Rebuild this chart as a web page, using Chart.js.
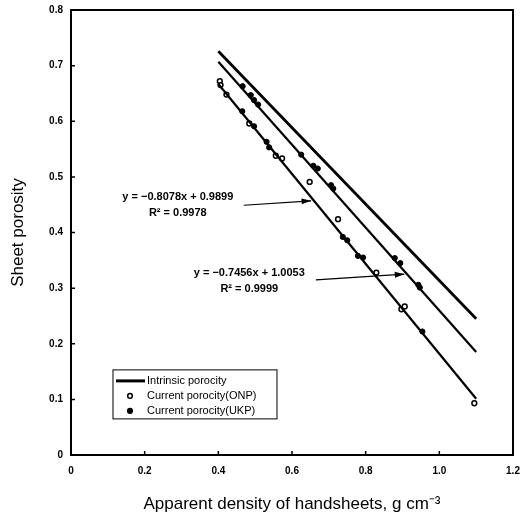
<!DOCTYPE html>
<html>
<head>
<meta charset="utf-8">
<script src="https://cdn.jsdelivr.net/npm/chart.js@4"></script>
<style>
  html, body { margin: 0; padding: 0; background: #fff; }
  #wrap { width: 522px; height: 522px; }
</style>
</head>
<body>
<div id="wrap"><canvas id="myChart"></canvas></div>
<script>
// ---- data ----
const intrinsicLine = [{x: 0.40, y: 0.726}, {x: 1.10, y: 0.245}];
const ukpFitLine    = [{x: 0.40, y: 0.707}, {x: 1.10, y: 0.185}];
const onpFitLine    = [{x: 0.40, y: 0.667}, {x: 1.10, y: 0.101}];

const onpDensity  = [0.404, 0.406, 0.422, 0.484, 0.556, 0.573, 0.648, 0.725, 0.829, 0.897, 0.906, 1.095];
const onpPorosity = [0.672, 0.665, 0.648, 0.596, 0.538, 0.533, 0.491, 0.424, 0.328, 0.262, 0.267, 0.093];

const ukpDensity  = [0.466, 0.488, 0.497, 0.508, 0.625, 0.658, 0.670, 0.706, 0.712,
                     0.465, 0.497, 0.531, 0.538, 0.738, 0.750, 0.779, 0.793,
                     0.879, 0.894, 0.943, 0.947, 0.954];
const ukpPorosity = [0.663, 0.647, 0.638, 0.630, 0.540, 0.520, 0.515, 0.485, 0.479,
                     0.618, 0.591, 0.563, 0.553, 0.392, 0.386, 0.358, 0.355,
                     0.354, 0.345, 0.306, 0.301, 0.222];

const xTicks = [0, 0.2, 0.4, 0.6, 0.8, 1, 1.2];
const yTicks = [0, 0.1, 0.2, 0.3, 0.4, 0.5, 0.6, 0.7, 0.8];

const legendLabels = ['Intrinsic porocity', 'Current porocity(ONP)', 'Current porocity(UKP)'];

const FONT = "'Liberation Sans', Arial, sans-serif";

// equation notes, each with an arrow pointing to its line
const notes = [
  {lines: ['y = \u22120.8078x + 0.9899', 'R\u00b2 = 0.9978'], at: {x: 0.29, y: 0.464},
   from: {x: 0.469, y: 0.449}, to: {x: 0.652, y: 0.457}},
  {lines: ['y = \u22120.7456x + 1.0053', 'R\u00b2 = 0.9999'], at: {x: 0.484, y: 0.327},
   from: {x: 0.665, y: 0.315}, to: {x: 0.905, y: 0.325}}
];

function toPoints(xs, ys) {
  return xs.map((x, i) => ({x: x, y: ys[i]}));
}

// frame + inward ticks
const framePlugin = {
  id: 'frame',
  afterDraw(chart) {
    const {ctx, chartArea: a, scales} = chart;
    ctx.save();
    ctx.strokeStyle = '#000';
    ctx.lineWidth = 2;
    ctx.strokeRect(a.left, a.top, a.right - a.left, a.bottom - a.top);
    ctx.lineWidth = 1.5;
    ctx.beginPath();
    xTicks.forEach(v => {
      const px = scales.x.getPixelForValue(v);
      ctx.moveTo(px, a.bottom);
      ctx.lineTo(px, a.bottom - 4);
    });
    yTicks.forEach(v => {
      const py = scales.y.getPixelForValue(v);
      ctx.moveTo(a.left, py);
      ctx.lineTo(a.left + 4, py);
    });
    ctx.stroke();
    ctx.restore();
  }
};

// equations and arrows
const notesPlugin = {
  id: 'notes',
  afterDatasetsDraw(chart) {
    const {ctx, scales: {x, y}} = chart;
    ctx.save();
    ctx.fillStyle = '#000';
    ctx.strokeStyle = '#000';
    ctx.font = 'bold 11px ' + FONT;
    ctx.textAlign = 'center';
    ctx.textBaseline = 'middle';
    notes.forEach(n => {
      const cx = x.getPixelForValue(n.at.x);
      const cy = y.getPixelForValue(n.at.y);
      n.lines.forEach((t, i) => ctx.fillText(t, cx, cy + i * 16));
      const x0 = x.getPixelForValue(n.from.x), y0 = y.getPixelForValue(n.from.y);
      const x1 = x.getPixelForValue(n.to.x),   y1 = y.getPixelForValue(n.to.y);
      ctx.lineWidth = 1.2;
      ctx.beginPath();
      ctx.moveTo(x0, y0);
      ctx.lineTo(x1, y1);
      ctx.stroke();
      const ang = Math.atan2(y1 - y0, x1 - x0);
      ctx.beginPath();
      ctx.moveTo(x1, y1);
      ctx.lineTo(x1 - 10 * Math.cos(ang - 0.3), y1 - 10 * Math.sin(ang - 0.3));
      ctx.lineTo(x1 - 10 * Math.cos(ang + 0.3), y1 - 10 * Math.sin(ang + 0.3));
      ctx.closePath();
      ctx.fill();
    });
    ctx.restore();
  }
};

// boxed legend in the lower left corner of the plot
const legendBoxPlugin = {
  id: 'legendBox',
  afterDraw(chart) {
    const {ctx, scales: {x, y}} = chart;
    const left = x.getPixelForValue(0.114), top = y.getPixelForValue(0.153);
    const w = 164, h = 49;
    ctx.save();
    ctx.fillStyle = '#fff';
    ctx.fillRect(left, top, w, h);
    ctx.strokeStyle = '#000';
    ctx.lineWidth = 1;
    ctx.strokeRect(left, top, w, h);
    ctx.font = '11px ' + FONT;
    ctx.textBaseline = 'middle';
    ctx.textAlign = 'left';
    ctx.fillStyle = '#000';
    legendLabels.forEach((t, i) => {
      const ry = top + 11 + i * 15;
      if (i === 0) {
        ctx.lineWidth = 3;
        ctx.beginPath();
        ctx.moveTo(left + 3, ry);
        ctx.lineTo(left + 32, ry);
        ctx.stroke();
      } else {
        ctx.lineWidth = 1.5;
        ctx.beginPath();
        ctx.arc(left + 17, ry, 2.3, 0, Math.PI * 2);
        if (i === 2) ctx.fill();
        ctx.stroke();
      }
      ctx.fillText(t, left + 34, ry);
    });
    ctx.restore();
  }
};

const lineStyle = (data, w) => ({
  type: 'line', data: data, borderColor: '#000', borderWidth: w,
  pointRadius: 0, fill: false, tension: 0
});

new Chart(document.getElementById('myChart'), {
  type: 'scatter',
  data: {
    datasets: [
      Object.assign({label: legendLabels[0]}, lineStyle(intrinsicLine, 2.8)),
      Object.assign({label: 'UKP fit'}, lineStyle(ukpFitLine, 2.2)),
      Object.assign({label: 'ONP fit'}, lineStyle(onpFitLine, 2.2)),
      {
        label: legendLabels[1],
        data: toPoints(onpDensity, onpPorosity),
        pointRadius: 2.4, pointBorderWidth: 1.5,
        pointBackgroundColor: '#fff', pointBorderColor: '#000'
      },
      {
        label: legendLabels[2],
        data: toPoints(ukpDensity, ukpPorosity),
        pointRadius: 2.6, pointBorderWidth: 1,
        pointBackgroundColor: '#000', pointBorderColor: '#000'
      }
    ]
  },
  options: {
    responsive: true,
    maintainAspectRatio: false,
    animation: false,
    layout: {padding: {top: 10, right: 9, left: 0, bottom: 0}},
    plugins: {legend: {display: false}, tooltip: {enabled: false}},
    scales: {
      x: {
        type: 'linear', min: 0, max: 1.2,
        afterBuildTicks: s => { s.ticks = xTicks.map(v => ({value: v})); },
        afterFit: s => { s.height = 67; s.paddingLeft = 0; s.paddingRight = 0; },
        grid: {display: false, drawTicks: false},
        border: {display: false},
        ticks: {color: '#000', padding: 10, font: {family: FONT, size: 10, weight: 'bold'}},
        title: {display: true, text: 'Apparent density of handsheets, g cm\u207b\u00b3',
                color: '#000', font: {family: FONT, size: 17}, padding: {bottom: 7}}
      },
      y: {
        type: 'linear', min: 0, max: 0.8,
        afterBuildTicks: s => { s.ticks = yTicks.map(v => ({value: v})); },
        afterFit: s => { s.width = 71; s.paddingTop = 0; s.paddingBottom = 0; },
        grid: {display: false, drawTicks: false},
        border: {display: false},
        ticks: {color: '#000', padding: 8, font: {family: FONT, size: 10, weight: 'bold'}},
        title: {display: true, text: 'Sheet porosity',
                color: '#000', font: {family: FONT, size: 17}, padding: {top: 8}}
      }
    }
  },
  plugins: [framePlugin, notesPlugin, legendBoxPlugin]
});
</script>
</body>
</html>
